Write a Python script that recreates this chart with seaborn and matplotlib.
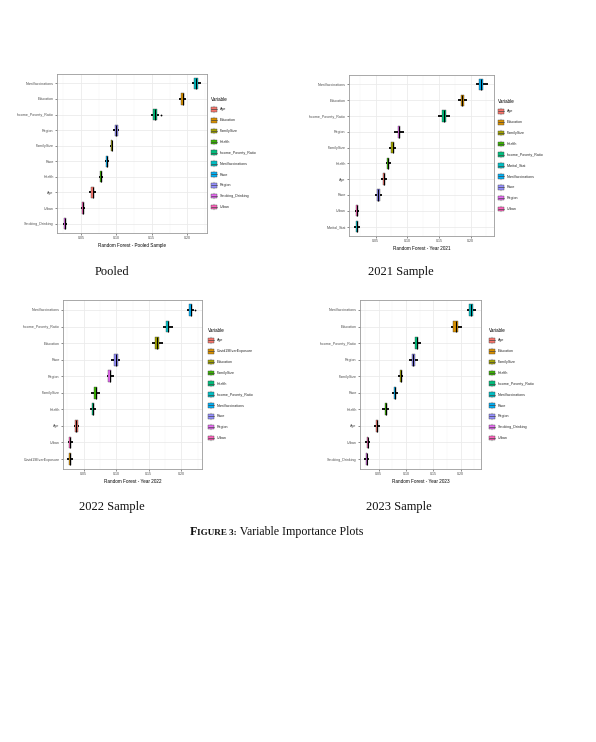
import numpy as np
import pandas as pd
import matplotlib
matplotlib.use("Agg")
import matplotlib.pyplot as plt
import seaborn as sns
from matplotlib.legend_handler import HandlerBase
from matplotlib.patches import Patch, Rectangle
from matplotlib.lines import Line2D
from matplotlib.ticker import MultipleLocator

# ---------------- data ----------------
# each variable: lower whisker, q1, median, q3, upper whisker

pooled_vars = ["NumVaccinations", "Education", "Income_Poverty_Ratio", "Region", "FamilySize",
               "Race", "Health", "Age", "Urban", "Smoking_Drinking"]
pooled_lo  = [0.2075, 0.1887, 0.1487, 0.0947, 0.0909, 0.0843, 0.0749, 0.0617, 0.0500, 0.0251]
pooled_q1  = [0.2103, 0.1910, 0.1520, 0.0975, 0.0918, 0.0857, 0.0768, 0.0646, 0.0509, 0.0265]
pooled_med = [0.2131, 0.1934, 0.1544, 0.0994, 0.0932, 0.0871, 0.0782, 0.0665, 0.0524, 0.0279]
pooled_q3  = [0.2159, 0.1957, 0.1567, 0.1017, 0.0942, 0.0885, 0.0796, 0.0683, 0.0538, 0.0293]
pooled_hi  = [0.2202, 0.1990, 0.1595, 0.1041, 0.0951, 0.0900, 0.0815, 0.0711, 0.0552, 0.0307]
pooled_out_vars = ["Income_Poverty_Ratio"]
pooled_out_vals = [0.1623]

y2021_vars = ["NumVaccinations", "Education", "Income_Poverty_Ratio", "Region", "FamilySize",
              "Health", "Age", "Race", "Urban", "Marital_Stat"]
y2021_lo  = [0.2078, 0.1805, 0.1478, 0.0789, 0.0710, 0.0658, 0.0579, 0.0484, 0.0179, 0.0163]
y2021_q1  = [0.2131, 0.1841, 0.1547, 0.0847, 0.0747, 0.0679, 0.0610, 0.0521, 0.0195, 0.0190]
y2021_med = [0.2167, 0.1868, 0.1578, 0.0868, 0.0768, 0.0695, 0.0626, 0.0542, 0.0205, 0.0205]
y2021_q3  = [0.2200, 0.1894, 0.1610, 0.0889, 0.0789, 0.0710, 0.0642, 0.0563, 0.0221, 0.0221]
y2021_hi  = [0.2273, 0.1947, 0.1673, 0.0952, 0.0821, 0.0742, 0.0684, 0.0600, 0.0242, 0.0253]
y2021_out_vars = []
y2021_out_vals = []

y2022_vars = ["NumVaccinations", "Income_Poverty_Ratio", "Education", "Race", "Region",
              "FamilySize", "Health", "Age", "Urban", "Covid19EverExposure"]
y2022_lo  = [0.2087, 0.1719, 0.1550, 0.0925, 0.0853, 0.0618, 0.0592, 0.0346, 0.0259, 0.0249]
y2022_q1  = [0.2123, 0.1765, 0.1591, 0.0966, 0.0879, 0.0664, 0.0623, 0.0367, 0.0280, 0.0275]
y2022_med = [0.2149, 0.1790, 0.1626, 0.0997, 0.0899, 0.0684, 0.0643, 0.0387, 0.0295, 0.0285]
y2022_q3  = [0.2169, 0.1816, 0.1657, 0.1027, 0.0920, 0.0705, 0.0659, 0.0408, 0.0311, 0.0300]
y2022_hi  = [0.2200, 0.1872, 0.1719, 0.1063, 0.0961, 0.0746, 0.0695, 0.0433, 0.0336, 0.0331]
y2022_out_vars = ["NumVaccinations"]
y2022_out_vals = [0.2215]

y2023_vars = ["NumVaccinations", "Education", "Income_Poverty_Ratio", "Region", "FamilySize",
              "Race", "Health", "Age", "Urban", "Smoking_Drinking"]
y2023_lo  = [0.2110, 0.1824, 0.1134, 0.1061, 0.0848, 0.0738, 0.0567, 0.0415, 0.0250, 0.0232]
y2023_q1  = [0.2159, 0.1866, 0.1171, 0.1104, 0.0884, 0.0775, 0.0610, 0.0451, 0.0287, 0.0268]
y2023_med = [0.2190, 0.1909, 0.1195, 0.1134, 0.0903, 0.0793, 0.0628, 0.0470, 0.0299, 0.0280]
y2023_q3  = [0.2220, 0.1952, 0.1220, 0.1171, 0.0921, 0.0811, 0.0646, 0.0488, 0.0311, 0.0293]
y2023_hi  = [0.2275, 0.2019, 0.1269, 0.1214, 0.0951, 0.0848, 0.0695, 0.0524, 0.0348, 0.0329]
y2023_out_vars = []
y2023_out_vals = []

x_ticks = [0.05, 0.10, 0.15, 0.20]
captions = ["Pooled", "2021 Sample", "2022 Sample", "2023 Sample"]
x_titles = ["Random Forest - Pooled Sample", "Random Forest - Year 2021",
            "Random Forest - Year 2022", "Random Forest - Year 2023"]

# ggplot default hue palette for 10 levels
hue10 = ["#F8766D", "#D89000", "#A3A500", "#39B600", "#00BF7D",
         "#00BFC4", "#00B0F6", "#9590FF", "#E76BF3", "#FF62BC"]

W, H = 596, 742
sns.set_theme(style="whitegrid")
plt.rcParams["font.family"] = ["Liberation Sans Narrow", "Liberation Sans", "DejaVu Sans"]
SERIF = ["Liberation Serif", "DejaVu Serif"]


class BoxKey(HandlerBase):
    # ggplot style boxplot legend key
    def create_artists(self, legend, orig_handle, xdescent, ydescent, width, height, fontsize, trans):
        x0, y0 = -xdescent, -ydescent
        fc = orig_handle.get_facecolor()
        rect = Rectangle((x0 + 0.08 * width, y0 + 0.14 * height), 0.84 * width, 0.72 * height,
                         facecolor=fc, edgecolor="#444444", lw=0.3, transform=trans)
        med = Line2D([x0 + 0.08 * width, x0 + 0.92 * width], [y0 + 0.5 * height] * 2,
                     color="#444444", lw=0.5, transform=trans)
        w1 = Line2D([x0 + 0.5 * width] * 2, [y0, y0 + 0.14 * height], color="#444444", lw=0.3, transform=trans)
        w2 = Line2D([x0 + 0.5 * width] * 2, [y0 + 0.86 * height, y0 + height], color="#444444", lw=0.3, transform=trans)
        return [rect, med, w1, w2]


def px_axes(fig, x0, y0, x1, y1):
    return fig.add_axes([x0 / W, 1 - y1 / H, (x1 - x0) / W, (y1 - y0) / H])


def draw_panel(ax, names, lo, q1, med, q3, hi, out_vars, out_vals, xlim, xtitle, gap_px):
    rows = []
    for n, a, b, c, d, e in zip(names, lo, q1, med, q3, hi):
        for v in (a, b, c, d, e):
            rows.append({"Variable": n, "value": v})
    df = pd.DataFrame(rows)
    legend_names = sorted(names)
    pal = dict(zip(legend_names, hue10))

    sns.boxplot(data=df, x="value", y="Variable", hue="Variable", order=names,
                hue_order=legend_names, palette=pal, dodge=False, whis=(0, 100),
                width=0.72, showcaps=False, linecolor="#333333", linewidth=0.25,
                saturation=1,
                medianprops=dict(color="black", linewidth=0.8),
                whiskerprops=dict(color="black", linewidth=1.3),
                legend=False, ax=ax)
    if out_vals:
        sns.stripplot(x=out_vals, y=out_vars, order=names, jitter=False, color="black",
                      size=1.3, ax=ax)

    ax.set_xlim(*xlim)
    ax.set_ylim(len(names) - 0.4, -0.6)
    ax.set_xticks(x_ticks)
    ax.set_xticklabels([f"{t:.2f}" for t in x_ticks])
    ax.xaxis.set_minor_locator(MultipleLocator(0.025))
    ax.set_facecolor("white")
    ax.set_axisbelow(True)
    ax.grid(True, which="major", color="#EBEBEB", lw=0.6)
    ax.grid(True, which="minor", axis="x", color="#F3F3F3", lw=0.35)
    for s in ax.spines.values():
        s.set_visible(True)
        s.set_color("#9a9a9a")
        s.set_linewidth(0.6)
    ax.tick_params(axis="both", which="major", bottom=True, left=True, length=1.4, width=0.4,
                   color="#333333", labelsize=2.6, labelcolor="#4D4D4D", pad=1.0)
    ax.tick_params(axis="x", which="minor", length=0)
    ax.set_xlabel(xtitle, fontsize=3.3, color="black", labelpad=2.0)
    ax.set_ylabel("")

    bb = ax.get_position()
    ax_w = bb.width * W
    handles = [Patch(facecolor=pal[n]) for n in legend_names]
    leg = ax.legend(handles, legend_names, handler_map={Patch: BoxKey()}, title="Variable",
                    loc="center left", bbox_to_anchor=(1 + gap_px / ax_w, 0.5), frameon=False,
                    fontsize=2.6, title_fontsize=3.3, labelspacing=1.2, handlelength=1.7,
                    handleheight=2.4, handletextpad=0.7, borderaxespad=0, borderpad=0,
                    alignment="left")
    leg.get_title().set_color("black")


fig = plt.figure(figsize=(W / 100, H / 100), dpi=100)
fig.patch.set_facecolor("white")

ax1 = px_axes(fig, 57, 74, 207, 233)
ax2 = px_axes(fig, 349, 75, 494, 236)
ax3 = px_axes(fig, 63, 300, 202, 469)
ax4 = px_axes(fig, 360, 300, 481, 469)

draw_panel(ax1, pooled_vars, pooled_lo, pooled_q1, pooled_med, pooled_q3, pooled_hi,
           pooled_out_vars, pooled_out_vals, (0.016, 0.228), x_titles[0], 4)
draw_panel(ax2, y2021_vars, y2021_lo, y2021_q1, y2021_med, y2021_q3, y2021_hi,
           y2021_out_vars, y2021_out_vals, (0.008, 0.237), x_titles[1], 4)
draw_panel(ax3, y2022_vars, y2022_lo, y2022_q1, y2022_med, y2022_q3, y2022_hi,
           y2022_out_vars, y2022_out_vals, (0.0183, 0.2317), x_titles[2], 6)
draw_panel(ax4, y2023_vars, y2023_lo, y2023_q1, y2023_med, y2023_q3, y2023_hi,
           y2023_out_vars, y2023_out_vals, (0.0159, 0.2372), x_titles[3], 8)

# sub captions
for txt, (cx, cy) in zip(captions, [(112, 272), (401, 272), (112, 507), (399, 507)]):
    fig.text(cx / W, 1 - cy / H, txt, ha="center", va="center", fontsize=9, family=SERIF, color="#111111")

# figure caption with small caps
renderer = fig.canvas.get_renderer()
x = 190
base = 1 - 535 / H
for piece, size, weight in [("F", 8.6, "bold"), ("IGURE 3:", 6.6, "bold"),
                            (" Variable Importance Plots", 8.6, "normal")]:
    t = fig.text(x / W, base, piece, ha="left", va="baseline", fontsize=size,
                 weight=weight, family=SERIF, color="#111111")
    x = t.get_window_extent(renderer).x1

fig.savefig("out.png", dpi=100, facecolor="white")
